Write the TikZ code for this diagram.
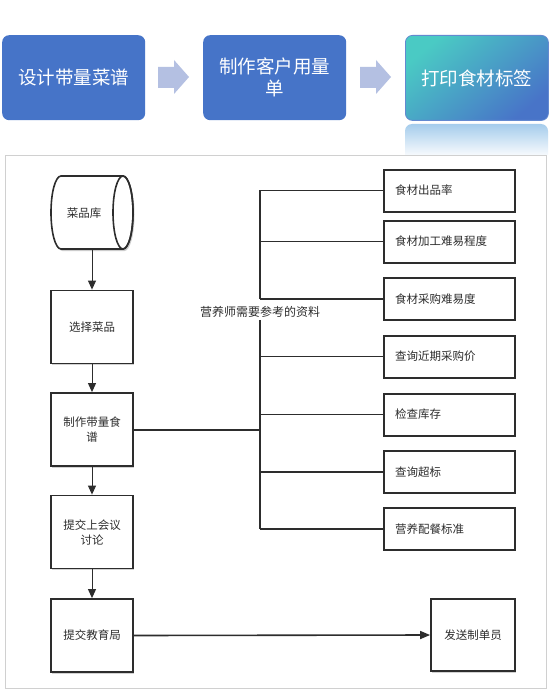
\documentclass[tikz,border=0pt]{standalone}
\usepackage{fontspec}
\setmainfont{Noto Sans CJK SC}
\usetikzlibrary{arrows.meta,shadows}
\definecolor{boxblue}{RGB}{70,116,200}
\definecolor{arrowlav}{RGB}{180,192,226}
\definecolor{tealc}{RGB}{74,202,196}
\definecolor{bluec}{RGB}{72,116,200}
\definecolor{reflc}{RGB}{165,204,236}
\definecolor{framegray}{RGB}{208,208,208}
\definecolor{ink}{RGB}{45,45,45}
\begin{document}
\begin{tikzpicture}[x=1pt,y=-1pt,
  topbox/.style={rounded corners=7pt, text=white, font=\fontsize{18.5}{22}\selectfont,
    align=center, minimum width=143pt, minimum height=85pt, inner sep=0pt, anchor=north west},
  blockarrow/.style={fill=arrowlav, draw=none},
  flowbox/.style={draw=ink, line width=1.8pt, fill=white, minimum width=82pt, minimum height=73pt,
    inner sep=2pt, align=center, text=ink, font=\fontsize{11.5}{15}\selectfont,
    drop shadow={shadow xshift=1.2pt, shadow yshift=-1.5pt, opacity=0.35}},
  refbox/.style={draw=ink, line width=2pt, fill=white, text width=109pt, inner xsep=11pt,
    minimum height=42pt, align=left, text=ink, font=\fontsize{11.5}{15}\selectfont,
    drop shadow={shadow xshift=1pt, shadow yshift=-1.2pt, opacity=0.3}},
  conn/.style={draw=ink, line width=1.6pt},
  flowarrow/.style={draw=ink, line width=1pt, -{Triangle[length=9pt,width=8pt]}},
  lbl/.style={text=ink, font=\fontsize{11.5}{15}\selectfont, inner sep=0pt}
]
\useasboundingbox (0,0) rectangle (550,690);
\fill[white] (0,0) rectangle (550,690);

% top process row
\node[topbox, fill=boxblue] (t1) at (2,35) {设计带量菜谱};
\node[topbox, fill=boxblue] (t2) at (203,35) {制作客户用量\\单};
\shade[top color=reflc, bottom color=white, rounded corners=7pt]
  (405,158) -- (405,124) -- (548,124) -- (548,158);
\node[topbox, top color=tealc, bottom color=bluec, shading angle=40, draw=bluec!85!white, line width=0.8pt] (t3) at (405,35) {打印食材标签};
\fill[white] (0,155) rectangle (550,160);

\path[blockarrow] (158,67) -- (174,67) -- (174,60) -- (189,77) -- (174,94) -- (174,88) -- (158,88) -- cycle;
\path[blockarrow] (360,67) -- (376,67) -- (376,60) -- (391,77) -- (376,94) -- (376,88) -- (360,88) -- cycle;

% frame
\draw[framegray, line width=1pt] (5,155) rectangle (546,688);

% cylinder
\fill[gray!40] (62.5,178) -- (124.5,178) arc[start angle=-90, end angle=90, x radius=10, y radius=36.5]
  -- (62.5,251) arc[start angle=90, end angle=270, x radius=10, y radius=36.5] -- cycle;
\draw[ink, line width=1.6pt, fill=white] (61,176) -- (123,176) arc[start angle=-90, end angle=90, x radius=10, y radius=36.5]
  -- (61,249) arc[start angle=90, end angle=270, x radius=10, y radius=36.5] -- cycle;
\draw[ink, line width=1.6pt] (123,212.5) ellipse[x radius=10, y radius=36.5];
\node[minimum width=82pt, minimum height=73pt, inner sep=0pt] (db) at (92,212.5) {};
\node[lbl] (dbtext) at (84,213) {菜品库};

% left flow
\node[flowbox] (s1) at (92,327) {选择菜品};
\node[flowbox] (s2) at (92,429.5) {制作带量食\\谱};
\node[flowbox] (s3) at (92,532) {提交上会议\\讨论};
\node[flowbox] (s4) at (92,635.5) {提交教育局};
\node[flowbox, minimum width=84pt, minimum height=72pt] (s5) at (473,635) {发送制单员};

\draw[flowarrow] (db.south) -- (s1.north);
\draw[flowarrow] (s1.south) -- (s2.north);
\draw[flowarrow] (s2.south) -- (s3.north);
\draw[flowarrow] (s3.south) -- (s4.north);
\draw[draw=ink, line width=1.6pt, -{Triangle[length=10pt,width=8pt]}] (s4.east) -- (s5.west);

% reference boxes
\node[refbox] (r1) at (449.5,190.5) {食材出品率};
\node[refbox] (r2) at (449.5,241.5) {食材加工难易程度};
\node[refbox] (r3) at (449.5,299) {食材采购难易度};
\node[refbox] (r4) at (449.5,356.5) {查询近期采购价};
\node[refbox] (r5) at (449.5,414.5) {检查库存};
\node[refbox] (r6) at (449.5,472) {查询超标};
\node[refbox] (r7) at (449.5,529) {营养配餐标准};

\coordinate (bus) at (260,0);
\node[lbl, font=\fontsize{12}{15}\selectfont, inner sep=2pt] (note) at (260,312) {营养师需要参考的资料};

\draw[conn] (r1.west) -- (r1.west -| bus) -- (r3.west -| bus);
\draw[conn] (note.south -| bus) -- (r7.west -| bus);
\foreach \r in {r2,r3,r4,r5,r6,r7} {
  \draw[conn] (\r.west) -- (\r.west -| bus);
}
\draw[conn, line width=2pt] (s2.east) -- (s2.east -| bus);
\end{tikzpicture}
\end{document}
